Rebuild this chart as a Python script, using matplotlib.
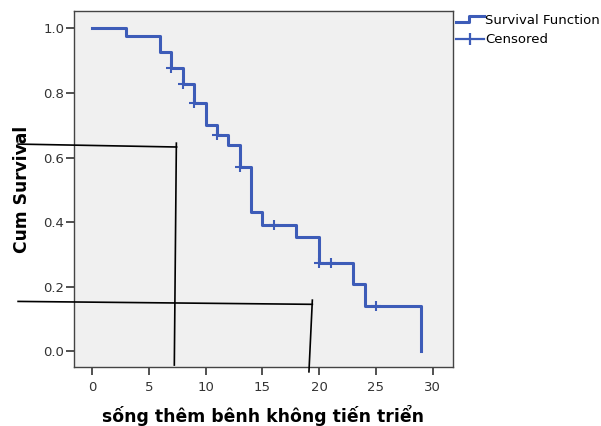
import numpy as np
import matplotlib
matplotlib.use('Agg')
import matplotlib.pyplot as plt
from matplotlib.lines import Line2D
from matplotlib.legend_handler import HandlerBase

# Kaplan-Meier steps
times = [0, 3, 6, 7, 8, 9, 10, 11, 12, 13, 14, 15, 18, 20, 23, 24, 29]
surv = [1.0, 0.977, 0.928, 0.877, 0.827, 0.768, 0.701, 0.670, 0.639, 0.572,
        0.432, 0.392, 0.355, 0.275, 0.208, 0.142, 0.0]
censor_t = [7, 8, 9, 11, 13, 16, 20, 21, 25]

# hand drawn guide lines (time, survival)
guide1_h_t = [-6.5, 7.45]
guide1_h_s = [0.642, 0.633]
guide1_v_t = [7.43, 7.25]
guide1_v_s = [0.645, -0.042]
guide2_h_t = [-6.5, 19.4]
guide2_h_s = [0.155, 0.146]
guide2_v_t = [19.4, 19.1]
guide2_v_s = [0.159, -0.063]

xticks = [0, 5, 10, 15, 20, 25, 30]
yticks = [0.0, 0.2, 0.4, 0.6, 0.8, 1.0]

blue = '#3d5cb8'

t_arr = np.array(times)
s_arr = np.array(surv)
censor_s = s_arr[np.searchsorted(t_arr, censor_t, side='right') - 1]


class StepHandler(HandlerBase):
    def create_artists(self, legend, orig_handle, xdescent, ydescent,
                       width, height, fontsize, trans):
        x0 = -xdescent
        y0 = -ydescent
        xs = [x0, x0 + width * 0.45, x0 + width * 0.45, x0 + width]
        ys = [y0 + height * 0.2, y0 + height * 0.2, y0 + height * 0.85, y0 + height * 0.85]
        ln = Line2D(xs, ys, color=blue, lw=2.2, transform=trans)
        return [ln]


fig = plt.figure(figsize=(6.01, 4.26), dpi=100)
ax = fig.add_axes([74 / 601, 1 - 367 / 426, 379 / 601, 356 / 426])
ax.set_facecolor('#f0f0f0')

ax.step(times, surv, where='post', color=blue, lw=2.2, zorder=3)
ax.plot(censor_t, censor_s, ls='none', marker='+', ms=7, mew=1.5,
        color=blue, zorder=4)

for gt, gs in [(guide1_h_t, guide1_h_s), (guide1_v_t, guide1_v_s),
               (guide2_h_t, guide2_h_s), (guide2_v_t, guide2_v_s)]:
    ax.plot(gt, gs, color='black', lw=1.2, clip_on=False, zorder=6)

ax.set_xlim(-1.58, 31.78)
ax.set_ylim(-0.048, 1.054)
ax.set_xticks(xticks)
ax.set_yticks(yticks)
ax.set_yticklabels(['%.1f' % v for v in yticks])

for sp in ax.spines.values():
    sp.set_color('#444444')
    sp.set_linewidth(1.0)
ax.tick_params(axis='x', length=6, width=1.2, pad=4, labelsize=9.5,
               colors='#333333')
ax.tick_params(axis='y', length=6, width=1.2, pad=1, labelsize=9.5,
               colors='#333333')

ax.set_ylabel('Cum Survival', fontsize=12.3, fontweight='bold', labelpad=9)
ax.set_xlabel('sống thêm bênh không tiến triển', fontsize=12.4,
              fontweight='bold', labelpad=8)

h_surv = Line2D([], [], color=blue, lw=2.2)
h_cens = Line2D([], [], color=blue, lw=1.6, marker='|', ms=8, mew=1.6)
ax.legend([h_surv, h_cens], ['Survival Function', 'Censored'],
          handler_map={h_surv: StepHandler()},
          loc='upper left', bbox_to_anchor=(1.0, 1.0), frameon=False,
          fontsize=9.5, handlelength=2.1, handletextpad=0.1,
          borderpad=0.2, borderaxespad=0.05, labelspacing=0.45)

fig.savefig('out.png', dpi=100)
